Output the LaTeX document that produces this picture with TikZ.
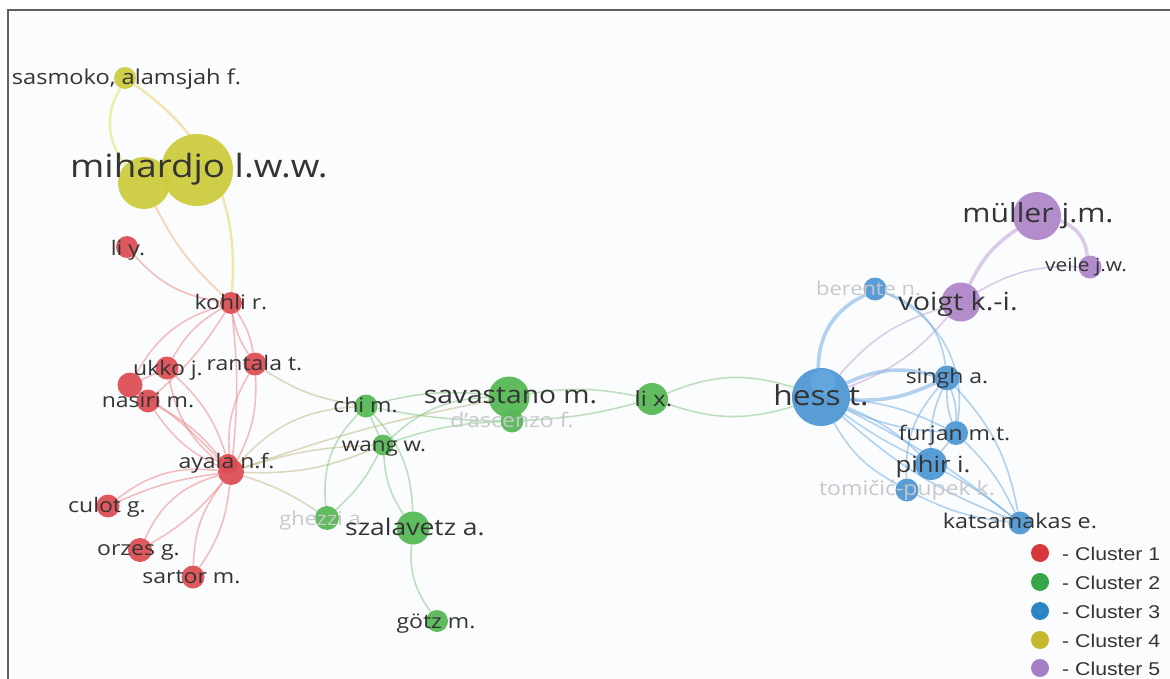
\documentclass[tikz,border=0pt]{standalone}
\usepackage{graphicx}
\usepackage{fontspec}
\setmainfont{Open Sans}
\newfontfamily\legendfont{Liberation Sans}
\pgfdeclarelayer{paper}
\pgfdeclarelayer{edges}
\pgfsetlayers{paper,edges,main}

% labels are set slightly wide
\newcommand\hstretch[1]{\scalebox{1.15}[1]{#1}}

% cluster colours (nodes)
\definecolor{nRed}{RGB}{221,78,84}
\definecolor{nGreen}{RGB}{86,184,86}
\definecolor{nBlue}{RGB}{78,152,212}
\definecolor{nBlueL}{RGB}{98,168,222}
\definecolor{nYellow}{RGB}{204,204,62}
\definecolor{nPurple}{RGB}{174,134,200}
% link colours
\definecolor{eRed}{RGB}{236,128,128}
\definecolor{eGreen}{RGB}{128,196,128}
\definecolor{eBlue}{RGB}{104,168,224}
\definecolor{eYellow}{RGB}{226,226,90}
\definecolor{ePurple}{RGB}{186,156,214}
\definecolor{eRG}{RGB}{192,182,124}
\definecolor{eRY}{RGB}{240,180,120}
% legend colours
\definecolor{lRed}{RGB}{214,56,60}
\definecolor{lGreen}{RGB}{52,166,72}
\definecolor{lBlue}{RGB}{44,132,196}
\definecolor{lYellow}{RGB}{200,184,44}
\definecolor{lPurple}{RGB}{166,128,196}
% text and canvas
\definecolor{txt}{RGB}{52,52,52}
\definecolor{faint}{RGB}{200,200,204}
\definecolor{canvas}{RGB}{251,252,254}
\definecolor{frameC}{RGB}{96,96,96}

\tikzset{
  vtx/.style={circle, inner sep=0pt, draw=none, fill opacity=0.94},
  vr/.style={vtx, fill=nRed},
  vg/.style={vtx, fill=nGreen},
  vb/.style={vtx, fill=nBlue},
  vy/.style={vtx, fill=nYellow},
  vp/.style={vtx, fill=nPurple},
  lbl/.style={anchor=base, inner sep=0pt, text=txt, text opacity=1},
  lblfaint/.style={anchor=base, inner sep=0pt, text=faint},
  fs/.style={font=\fontsize{#1pt}{#1pt}\selectfont},
  link/.style={line width=1.6pt, draw opacity=0.5},
  heavy/.style={line width=3.6pt, draw opacity=0.5},
  lr/.style={link, draw=eRed},
  lg/.style={link, draw=eGreen},
  lb/.style={link, draw=eBlue},
  ly/.style={link, draw=eYellow, line width=2.6pt},
  lp/.style={link, draw=ePurple},
  lrg/.style={link, draw=eRG},
  lry/.style={link, draw=eRY, line width=2pt},
  legdot/.style={circle, inner sep=0pt, minimum size=18pt, draw=none},
  legtxt/.style={anchor=base west, inner sep=0pt, text=txt, font=\legendfont\fontsize{18.5pt}{18.5pt}\selectfont},
}

\begin{document}
\begin{tikzpicture}[x=1pt, y=-1pt]
\useasboundingbox (0,0) rectangle (1170,679);

% paper and frame
\begin{pgfonlayer}{paper}
  \fill[white] (0,0) rectangle (1170,679);
  \fill[canvas] (8,10) rectangle (1170,679);
  \draw[frameC, line width=1.6pt] (8,679) -- (8,10) -- (1170,10);
\end{pgfonlayer}

% ---------- items ----------
% cluster 4
\node[vy, minimum size=22pt] (sasmoko) at (125,78) {};
\node[vy, minimum size=52pt] (mihS) at (144,183) {};
\node[vy, minimum size=72pt] (mihB) at (197,170) {};
% cluster 1
\node[vr, minimum size=22pt] (liy) at (127,247) {};
\node[vr, minimum size=22pt] (kohli) at (231,303) {};
\node[vr, minimum size=23pt] (ukko) at (167,368) {};
\node[vr, minimum size=23pt] (rantala) at (255,364) {};
\node[vr, minimum size=25pt] (nas2) at (130,385) {};
\node[vr, minimum size=23pt] (nasiri) at (148,401) {};
\node[vr, minimum size=26pt] (ayala) at (231,472) {};
\node[vr, minimum size=20pt] (ayala2) at (228,464) {};
\node[vr, minimum size=23pt] (culot) at (108,506) {};
\node[vr, minimum size=24pt] (orzes) at (140,550) {};
\node[vr, minimum size=23pt] (sartor) at (193,577) {};
% cluster 2
\node[vg, minimum size=23pt] (chi) at (366,406) {};
\node[vg, minimum size=21pt] (wang) at (383,445) {};
\node[vg, minimum size=24pt] (ghezzi) at (327,518) {};
\node[vg, minimum size=33pt] (szalavetz) at (413,528) {};
\node[vg, minimum size=22pt] (gotz) at (437,621) {};
\node[vg, minimum size=23pt] (dascenzo) at (512,421) {};
\node[vg, minimum size=41pt] (savastano) at (509,397) {};
\node[vg, minimum size=32pt] (lix) at (652,399) {};
% cluster 3
\node[vb, minimum size=58pt] (hess) at (821,397) {};
\node[vtx, fill=nBlueL, minimum size=25pt] (hess2) at (823,382) {};
\node[vb, minimum size=23pt] (berente) at (875,289) {};
\node[vb, minimum size=25pt] (singh) at (947,378) {};
\node[vb, minimum size=24pt] (furjan) at (956,433) {};
\node[vb, minimum size=32pt] (pihir) at (931,464) {};
\node[vb, minimum size=23pt] (tomicic) at (907,490) {};
\node[vb, minimum size=23pt] (katsamakas) at (1020,523) {};
% cluster 5
\node[vp, minimum size=39pt] (voigt) at (961,302) {};
\node[vp, minimum size=48pt] (muller) at (1037,216) {};
\node[vp, minimum size=23pt] (veile) at (1090,267) {};

% ---------- links ----------
\begin{pgfonlayer}{edges}
  % cluster 4 and its ties
  \draw[ly] (sasmoko) to[bend right=35] (mihS);
  \draw[ly, draw=eYellow!70!eRY] (sasmoko) to[bend left=30] (kohli);
  \draw[lry] (mihS) to[bend right=10] (kohli);
  % cluster 1
  \draw[lr] (liy) to[bend right=20] (kohli);
  \draw[lr] (kohli) to[bend right=15] (ukko);
  \draw[lr] (kohli) to[bend right=22] (nas2);
  \draw[lr] (kohli) to[bend left=8] (nasiri);
  \draw[lr] (kohli) to[bend left=12] (rantala);
  \draw[lr] (kohli) to[bend right=12] (rantala);
  \draw[lr] (kohli) to[bend left=6] (ayala);
  \draw[lr] (nas2) to (ukko);
  \draw[lr] (ukko) to[bend right=20] (ayala);
  \draw[lr] (ukko) to[bend left=15] (ayala);
  \draw[lr] (nasiri) to[bend right=15] (ayala);
  \draw[lr] (nasiri) to[bend left=12] (ayala);
  \draw[lr] (nas2) to[bend left=6] (ayala);
  \draw[lr] (rantala) to[bend right=18] (ayala);
  \draw[lr] (rantala) to[bend left=15] (ayala);
  \draw[lr] (culot) to[bend left=22] (ayala);
  \draw[lr] (culot) to[bend left=8] (ayala);
  \draw[lr] (orzes) to[bend left=25] (ayala);
  \draw[lr] (orzes) to[bend right=10] (ayala);
  \draw[lr] (sartor) to[bend left=18] (ayala);
  \draw[lr] (sartor) to[bend right=14] (ayala);
  % ties between clusters 1 and 2
  \draw[lrg] (rantala) to[bend right=12] (chi);
  \draw[lrg] (ayala) to[bend left=22] (chi);
  \draw[lrg] (ayala) to[bend left=8] (wang);
  \draw[lrg] (ayala) to[bend right=12] (wang);
  \draw[lrg] (ayala) to[bend left=4] (savastano);
  \draw[lrg] (ayala) to[bend left=8] (ghezzi);
  % cluster 2
  \draw[lg] (chi) to (wang);
  \draw[lg] (chi) to[bend right=25] (ghezzi);
  \draw[lg] (wang) to[bend left=10] (ghezzi);
  \draw[lg] (chi) to[bend left=20] (szalavetz);
  \draw[lg] (wang) to[bend right=15] (szalavetz);
  \draw[lg] (szalavetz) to[bend right=20] (gotz);
  \draw[lg] (chi) to[bend left=10] (savastano);
  \draw[lg] (chi) to[bend right=5] (dascenzo);
  \draw[lg] (wang) to[bend left=20] (savastano);
  \draw[lg] (wang) to[bend left=8] (dascenzo);
  \draw[lg] (savastano) to[bend left=10] (lix);
  \draw[lg] (dascenzo) to[bend right=6] (lix);
  \draw[lg] (lix) to[bend left=20] (hess);
  \draw[lg] (lix) to[bend right=18] (hess);
  % cluster 3
  \draw[lb, heavy] (hess) to[bend left=32] (berente);
  \draw[lb, heavy] (hess) to[bend left=20] (singh);
  \draw[lb, heavy] (hess) to[bend right=14] (singh);
  \draw[lb] (berente) to[bend left=32] (singh);
  \draw[lb] (berente) to[bend left=38] (furjan);
  \draw[lb] (hess) to[bend right=10] (furjan);
  \draw[lb] (hess) to[bend left=10] (furjan);
  \draw[lb] (hess) to[bend right=5] (pihir);
  \draw[lb] (hess) to[bend left=10] (pihir);
  \draw[lb] (hess) to[bend right=16] (tomicic);
  \draw[lb] (hess) to[bend right=10] (katsamakas);
  \draw[lb] (hess) to[bend left=6] (katsamakas);
  \draw[lb] (singh) to[bend left=10] (furjan);
  \draw[lb] (singh) to[bend right=10] (furjan);
  \draw[lb] (singh) to[bend right=12] (pihir);
  \draw[lb] (singh) to[bend left=16] (katsamakas);
  \draw[lb] (singh) to[bend right=22] (tomicic);
  \draw[lb] (furjan) to[bend left=10] (katsamakas);
  \draw[lb] (furjan) to (pihir);
  \draw[lb] (pihir) to[bend left=5] (katsamakas);
  \draw[lb] (tomicic) to[bend right=10] (katsamakas);
  % cluster 5 and its ties
  \draw[lp] (hess) to[bend left=16] (voigt);
  \draw[lp] (hess) to[bend right=14] (voigt);
  \draw[lp, heavy, draw=ePurple] (voigt) to[bend left=15] (muller);
  \draw[lp, heavy, draw=ePurple] (muller) to[bend left=32] (veile);
  \draw[lp] (voigt) to[bend left=16] (veile);
\end{pgfonlayer}

% ---------- labels ----------
\node[lbl, fs=20.5] (sasmoko-l) at (126.5,85) {\hstretch{sasmoko, alamsjah f.}};
\node[lbl, fs=32] (mihardjo-l) at (199,178) {\hstretch{mihardjo l.w.w.}};
\node[lbl, fs=20] (liy-l) at (128,255) {\hstretch{li y.}};
\node[lbl, fs=20] (kohli-l) at (231,309) {\hstretch{kohli r.}};
\node[lbl, fs=20] (ukko-l) at (168,375) {\hstretch{ukko j.}};
\node[lbl, fs=20] (rantala-l) at (254.5,370) {\hstretch{rantala t.}};
\node[lbl, fs=20] (nasiri-l) at (148,407) {\hstretch{nasiri m.}};
\node[lbl, fs=20] (ayala-l) at (226.5,468) {\hstretch{ayala n.f.}};
\node[lbl, fs=20] (culot-l) at (107,512) {\hstretch{culot g.}};
\node[lbl, fs=20] (orzes-l) at (138.5,555) {\hstretch{orzes g.}};
\node[lbl, fs=20] (sartor-l) at (191.5,583) {\hstretch{sartor m.}};
\node[lbl, fs=20] (chi-l) at (365.5,412) {\hstretch{chi m.}};
\node[lbl, fs=19.5] (wang-l) at (384,451) {\hstretch{wang w.}};
\node[lblfaint, fs=19] (ghezzi-l) at (323,525) {\hstretch{ghezzi a.}};
\node[lbl, fs=23] (szalavetz-l) at (415,535) {\hstretch{szalavetz a.}};
\node[lbl, fs=20] (gotz-l) at (436,628) {\hstretch{götz m.}};
\node[lblfaint, fs=20] (dascenzo-l) at (512,427) {\hstretch{d'ascenzo f.}};
\node[lbl, fs=24.5] (savastano-l) at (510.5,403) {\hstretch{savastano m.}};
\node[lbl, fs=21] (lix-l) at (653.5,406) {\hstretch{li x.}};
\node[lbl, fs=27.5] (hess-l) at (821,405) {\hstretch{hess t.}};
\node[lblfaint, fs=19] (berente-l) at (868.5,295) {\hstretch{berente n.}};
\node[lbl, fs=25] (voigt-l) at (958,310) {\hstretch{voigt k.-i.}};
\node[lbl, fs=26.3] (muller-l) at (1038,223) {\hstretch{müller j.m.}};
\node[lbl, fs=18.2] (veile-l) at (1086,272) {\hstretch{veile j.w.}};
\node[lbl, fs=20] (singh-l) at (947,383) {\hstretch{singh a.}};
\node[lbl, fs=20] (furjan-l) at (954.5,440) {\hstretch{furjan m.t.}};
\node[lbl, fs=22.3] (pihir-l) at (933,472) {\hstretch{pihir i.}};
\node[lblfaint, fs=20] (tomicic-l) at (907,495) {\hstretch{tomičić-pupek k.}};
\node[lbl, fs=20.3] (katsamakas-l) at (1020,528) {\hstretch{katsamakas e.}};

% ---------- legend ----------
\node[legdot, fill=lRed] (leg1) at (1040,553) {};
\node[legdot, fill=lGreen] (leg2) at (1040,582) {};
\node[legdot, fill=lBlue] (leg3) at (1040,611) {};
\node[legdot, fill=lYellow] (leg4) at (1040,640) {};
\node[legdot, fill=lPurple] (leg5) at (1040,668) {};
\node[legtxt] (leg1-t) at (1062,560) {\hstretch{- Cluster 1}};
\node[legtxt] (leg2-t) at (1062,589) {\hstretch{- Cluster 2}};
\node[legtxt] (leg3-t) at (1062,618) {\hstretch{- Cluster 3}};
\node[legtxt] (leg4-t) at (1062,647) {\hstretch{- Cluster 4}};
\node[legtxt] (leg5-t) at (1062,675) {\hstretch{- Cluster 5}};
\end{tikzpicture}
\end{document}
